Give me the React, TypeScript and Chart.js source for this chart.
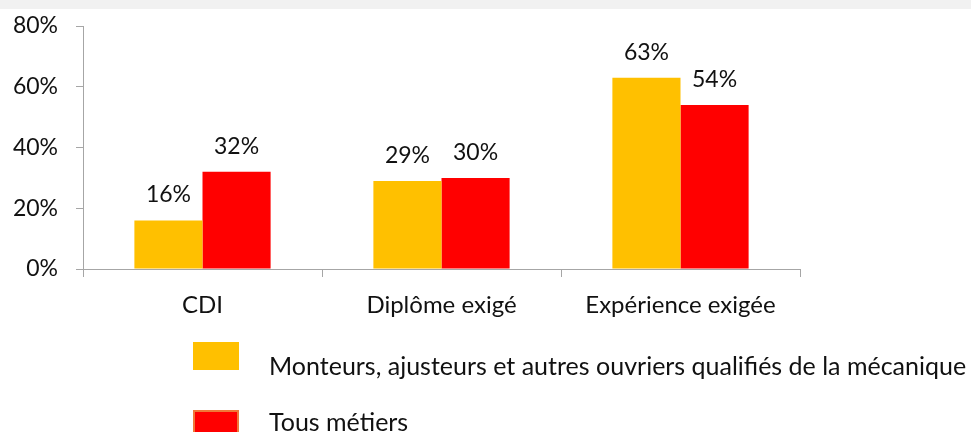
import React, { useEffect, useRef } from "react";
import { Chart, registerables } from "chart.js";

Chart.register(...registerables);

const categories = ["CDI", "Diplôme exigé", "Expérience exigée"];
const seriesNames = [
  "Monteurs, ajusteurs et autres ouvriers qualifiés de la mécanique",
  "Tous métiers",
];
const monteursValues = [16, 29, 63];
const tousMetiersValues = [32, 30, 54];
const yTicks = [0, 20, 40, 60, 80];

const YELLOW = "#FFC000";
const RED = "#FF0000";
const AXIS = "#a6a6a6";
const FONT = "Lato, 'Open Sans', sans-serif";

const bandPlugin = {
  id: "band",
  beforeDraw(chart: any) {
    const ctx = chart.ctx;
    ctx.save();
    ctx.fillStyle = "#f1f1f1";
    ctx.fillRect(0, 0, chart.width, 9);
    ctx.restore();
  },
};

const dataLabelPlugin = {
  id: "dataLabels",
  afterDatasetsDraw(chart: any) {
    const ctx = chart.ctx;
    ctx.save();
    ctx.fillStyle = "#111";
    ctx.font = `23px ${FONT}`;
    ctx.textAlign = "center";
    ctx.textBaseline = "alphabetic";
    chart.data.datasets.forEach((ds: any, i: number) => {
      const meta = chart.getDatasetMeta(i);
      meta.data.forEach((el: any, j: number) => {
        ctx.fillText(`${ds.data[j]}%`, el.x, el.y - 18);
      });
    });
    ctx.restore();
  },
};

const legendPlugin = {
  id: "customLegend",
  afterDraw(chart: any) {
    const ctx = chart.ctx;
    ctx.save();
    const rows = [
      { box: 342, base: 375 },
      { box: 410, base: 431 },
    ];
    chart.data.datasets.forEach((ds: any, i: number) => {
      const r = rows[i];
      ctx.fillStyle = ds.backgroundColor;
      ctx.fillRect(193, r.box, 46, 28);
      if (i === 1) {
        ctx.strokeStyle = "#F07838";
        ctx.lineWidth = 2;
        ctx.strokeRect(194, r.box + 1, 44, 26);
      }
      ctx.fillStyle = "#111";
      ctx.font = `25px ${FONT}`;
      ctx.textAlign = "left";
      ctx.textBaseline = "alphabetic";
      ctx.fillText(ds.label, 269, r.base);
    });
    ctx.restore();
  },
};

export default function App() {
  const ref = useRef<HTMLCanvasElement>(null);
  useEffect(() => {
    document.body.style.margin = "0";
    const chart = new Chart(ref.current!, {
      type: "bar",
      data: {
        labels: categories,
        datasets: [
          {
            label: seriesNames[0],
            data: monteursValues,
            backgroundColor: YELLOW,
            barPercentage: 1,
            categoryPercentage: 0.57,
          },
          {
            label: seriesNames[1],
            data: tousMetiersValues,
            backgroundColor: RED,
            barPercentage: 1,
            categoryPercentage: 0.57,
          },
        ],
      },
      options: {
        animation: false,
        responsive: false,
        layout: { padding: { top: 26, right: 171, bottom: 103, left: 0 } },
        plugins: {
          legend: { display: false },
          tooltip: { enabled: false },
        },
        scales: {
          x: {
            grid: {
              offset: true,
              drawOnChartArea: false,
              drawTicks: true,
              tickLength: 8,
              color: AXIS,
            },
            border: { color: AXIS, width: 1 },
            ticks: {
              color: "#111",
              font: { family: FONT, size: 24 },
              padding: 14,
            },
            afterFit(scale: any) {
              scale.height = 60;
              scale.paddingLeft = 0;
              scale.paddingRight = 0;
            },
          },
          y: {
            min: 0,
            max: 80,
            afterBuildTicks(scale: any) {
              scale.ticks = yTicks.map((v) => ({ value: v }));
            },
            grid: {
              drawOnChartArea: false,
              drawTicks: true,
              tickLength: 7,
              color: AXIS,
            },
            border: { color: AXIS, width: 1 },
            ticks: {
              color: "#111",
              font: { family: FONT, size: 23 },
              padding: 18,
              callback: (v: any) => `${v}%`,
            },
            afterFit(scale: any) {
              scale.width = 83;
              scale.paddingTop = 0;
              scale.paddingBottom = 0;
            },
          },
        },
      },
      plugins: [bandPlugin, dataLabelPlugin, legendPlugin],
    });
    return () => chart.destroy();
  }, []);
  return (
    <div style={{ width: 971, height: 432, position: "relative" }}>
      <canvas ref={ref} width={971} height={432} style={{ display: "block" }} />
    </div>
  );
}
